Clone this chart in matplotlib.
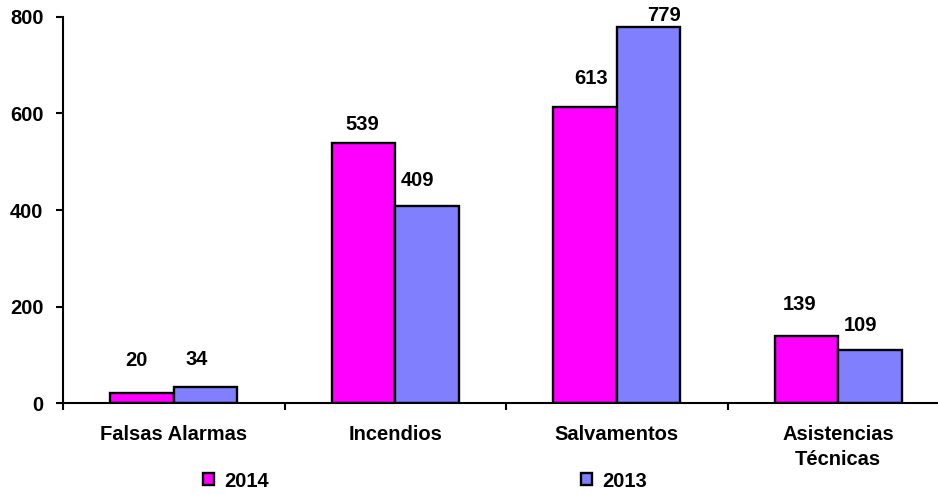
import matplotlib
matplotlib.use("Agg")
import matplotlib.pyplot as plt
import numpy as np

categorias = ["Falsas Alarmas", "Incendios", "Salvamentos", "Asistencias\nTécnicas"]
series = ["2014", "2013"]
valores_2014 = [20, 539, 613, 139]
valores_2013 = [34, 409, 779, 109]
colores = ["#FF00FF", "#8080FF"]

# desplazamientos de las etiquetas (px, centro del texto), como en el original
offs_2014 = [(-6, 33), (-1, 18), (6, 29), (-7, 31)]
offs_2013 = [(-9, 27), (-10, 25), (15, 12), (-10, 25)]

plt.rcParams["font.family"] = ["Liberation Sans", "DejaVu Sans"]
plt.rcParams["font.weight"] = "bold"
fs = 14.5

fig = plt.figure(figsize=(9.38, 4.94), dpi=100)
ax = fig.add_axes([63 / 938, 91 / 494, 886 / 938, 386 / 494])

x = np.arange(len(categorias))
w = 0.287
b1 = ax.bar(x - w / 2, valores_2014, w, color=colores[0], edgecolor="black", linewidth=1.7, label=series[0])
b2 = ax.bar(x + w / 2, valores_2013, w, color=colores[1], edgecolor="black", linewidth=1.7, label=series[1])

for bars, vals, offs in [(b1, valores_2014, offs_2014), (b2, valores_2013, offs_2013)]:
    for r, v, (dx, dy) in zip(bars, vals, offs):
        ax.annotate(str(v), (r.get_x() + r.get_width() / 2, v), xytext=(dx * 0.72, dy * 0.72),
                    textcoords="offset points", ha="center", va="center",
                    fontsize=fs, fontweight="bold")

ax.set_xlim(-0.5, 3.5)
ax.set_ylim(0, 800)
ax.set_yticks([0, 200, 400, 600, 800])
ax.set_xticks(x)
ax.set_xticklabels(categorias, fontsize=fs, fontweight="bold", linespacing=1.4)
ax.set_xticks(np.arange(-0.5, 4, 1), minor=True)
ax.tick_params(axis="x", which="major", length=0, pad=16)
ax.tick_params(axis="x", which="minor", length=5, width=1.5, direction="out")
ax.tick_params(axis="y", length=5, width=1.5, pad=9, labelsize=fs)
for t in ax.get_yticklabels():
    t.set_fontweight("bold")

for s in ["top", "right"]:
    ax.spines[s].set_visible(False)
for s in ["left", "bottom"]:
    ax.spines[s].set_linewidth(1.5)

fig.legend(loc="center", bbox_to_anchor=(425 / 938, 1 - 481 / 494), ncol=2, frameon=False,
           prop={"size": fs, "weight": "bold"}, handlelength=0.55, handleheight=0.55,
           handletextpad=0.5, columnspacing=15.5)

fig.savefig("out.png", dpi=100)
